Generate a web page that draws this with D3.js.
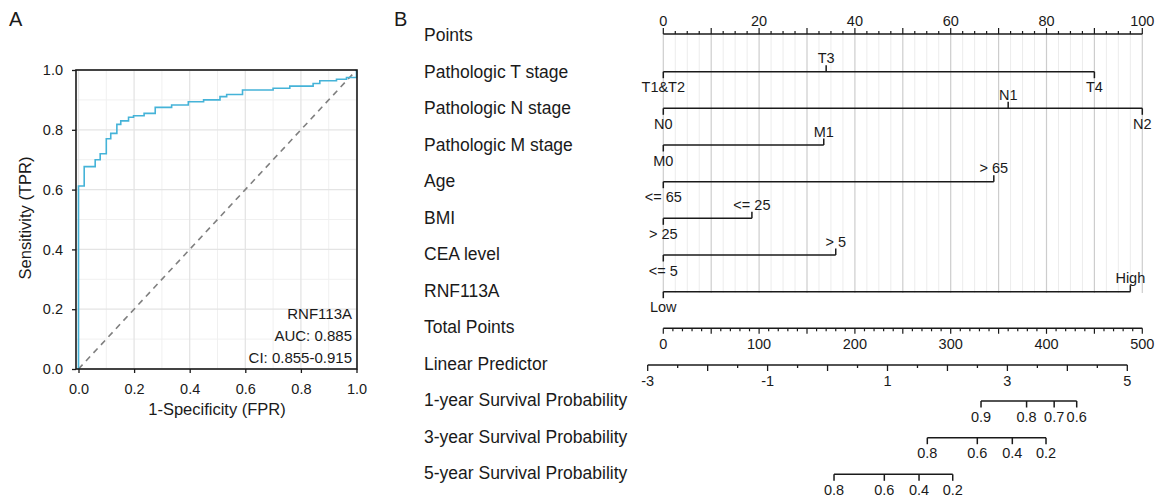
<!DOCTYPE html>
<html><head><meta charset="utf-8">
<script src="https://cdn.jsdelivr.net/npm/d3@7"></script>
<style>
html,body{margin:0;padding:0;background:#fff;}
svg text{font-family:"Liberation Sans",Arial,sans-serif;fill:#1a1a1a;}
</style></head>
<body><svg id="c" width="1159" height="499"></svg>
<script>
// ---------- Panel A data (ROC) ----------
const rocFPR = [0,0,0.0205,0.06,0.078,0.10,0.116,0.138,0.152,0.18,0.198,0.236,0.276,0.335,0.395,0.45,0.509,0.533,0.59,0.70,0.76,0.844,0.868,0.928,0.964,1.0,1.0];
const rocTPR = [0,0.612,0.677,0.70,0.72,0.77,0.788,0.818,0.83,0.842,0.847,0.855,0.875,0.883,0.894,0.90,0.911,0.918,0.933,0.939,0.946,0.955,0.964,0.969,0.975,0.975,1.0];
const rocTicks = [0,0.2,0.4,0.6,0.8,1.0];
const rocLegend = ["RNF113A","AUC: 0.885","CI: 0.855-0.915"];

// ---------- Panel B data (nomogram) ----------
const rowLabels = ["Points","Pathologic T stage","Pathologic N stage","Pathologic M stage","Age","BMI","CEA level","RNF113A","Total Points","Linear Predictor","1-year Survival Probability","3-year Survival Probability","5-year Survival Probability"];
const tLevels = ["T1&T2","T3","T4"],   tPoints = [0,34,90];
const nLevels = ["N0","N1","N2"],      nPoints = [0,72,100];
const mLevels = ["M0","M1"],           mPoints = [0,33.5];
const ageLevels = ["<= 65","> 65"],    agePoints = [0,69];
const bmiLevels = ["> 25","<= 25"],    bmiPoints = [0,18.5];
const ceaLevels = ["<= 5","> 5"],      ceaPoints = [0,36];
const rnfLevels = ["Low","High"],      rnfPoints = [0,97.5];
const pointsTickLabels = [0,20,40,60,80,100];
const totalTickLabels = [0,100,200,300,400,500];
const lpTickLabels = [-3,-1,1,3,5];
const surv1Labels = ["0.9","0.8","0.7","0.6"], surv1LP = [2.56,3.32,3.78,4.156];
const surv3Labels = ["0.8","0.6","0.4","0.2"], surv3LP = [1.664,2.498,3.082,3.644];
const surv5Labels = ["0.8","0.6","0.4","0.2"], surv5LP = [0.108,0.947,1.526,2.088];

const svg = d3.select("#c");
svg.append("rect").attr("width",1159).attr("height",499).attr("fill","#fff");

// ===== Panel A =====
svg.append("text").attr("x",9).attr("y",26).attr("font-size",20).text("A");
const xA = d3.scaleLinear().domain([0,1]).range([78.5,356.5]);
const yA = d3.scaleLinear().domain([0,1]).range([369,70]);
const gA = svg.append("g");
const minor = d3.range(0.1,1,0.2);
gA.selectAll(".gvm").data(minor).join("line")
  .attr("x1",d=>xA(d)).attr("x2",d=>xA(d)).attr("y1",70).attr("y2",369)
  .attr("stroke","#f0f0f0").attr("stroke-width",1);
gA.selectAll(".ghm").data(minor).join("line")
  .attr("y1",d=>yA(d)).attr("y2",d=>yA(d)).attr("x1",76).attr("x2",357)
  .attr("stroke","#f0f0f0").attr("stroke-width",1);
gA.selectAll(".gv").data(rocTicks).join("line")
  .attr("x1",d=>xA(d)).attr("x2",d=>xA(d)).attr("y1",70).attr("y2",369)
  .attr("stroke","#e4e4e4").attr("stroke-width",1.3);
gA.selectAll(".gh").data(rocTicks).join("line")
  .attr("y1",d=>yA(d)).attr("y2",d=>yA(d)).attr("x1",76).attr("x2",357)
  .attr("stroke","#e4e4e4").attr("stroke-width",1.3);
// diagonal
gA.append("line").attr("x1",xA(0)).attr("y1",yA(0)).attr("x2",xA(1)).attr("y2",yA(1))
  .attr("stroke","#7f7f7f").attr("stroke-width",1.6).attr("stroke-dasharray","6,5");
// ROC curve
const roc = rocFPR.map((f,i)=>[f,rocTPR[i]]);
gA.append("path").datum(roc)
  .attr("d",d3.line().x(d=>xA(d[0])).y(d=>yA(d[1])).curve(d3.curveStepAfter))
  .attr("fill","none").attr("stroke","#45b3d8").attr("stroke-width",1.6);
// frame
gA.append("rect").attr("x",76).attr("y",70).attr("width",281).attr("height",299)
  .attr("fill","none").attr("stroke","#1a1a1a").attr("stroke-width",1.6);
// axes
const axXA = gA.append("g").attr("transform","translate(0,369)")
  .call(d3.axisBottom(xA).tickValues(rocTicks).tickFormat(d3.format(".1f")).tickSize(4).tickPadding(11));
const axYA = gA.append("g").attr("transform","translate(76,0)")
  .call(d3.axisLeft(yA).tickValues(rocTicks).tickFormat(d3.format(".1f")).tickSize(4).tickPadding(9));
[axXA,axYA].forEach(a=>{
  a.select(".domain").remove();
  a.selectAll(".tick line").attr("stroke","#1a1a1a").attr("stroke-width",1.3);
  a.selectAll(".tick text").attr("font-size",14.5).attr("fill","#333")
   .attr("font-family","Liberation Sans, Arial, sans-serif");
});
gA.append("text").attr("x",217).attr("y",415).attr("text-anchor","middle").attr("font-size",16.5).text("1-Specificity (FPR)");
gA.append("text").attr("transform","translate(31,218) rotate(-90)").attr("text-anchor","middle").attr("font-size",16.5).text("Sensitivity (TPR)");
gA.selectAll(".leg").data(rocLegend).join("text")
  .attr("x",352).attr("y",(d,i)=>319+i*21.8).attr("text-anchor","end").attr("font-size",15).attr("fill","#333").text(d=>d);

// ===== Panel B =====
svg.append("text").attr("x",394).attr("y",26).attr("font-size",20).text("B");
const xP = d3.scaleLinear().domain([0,100]).range([663.3,1142.3]);
const xT = d3.scaleLinear().domain([0,500]).range([663.3,1142.3]);
const xL = d3.scaleLinear().domain([-3,5]).range([647.7,1127.3]);
const rowY = i => 41 + 36.5*i; // baseline of row label
const gB = svg.append("g");
// row labels
gB.selectAll(".rl").data(rowLabels).join("text")
  .attr("x",424).attr("y",(d,i)=>rowY(i)).attr("font-size",17.5).attr("fill","#1a1a1a").text(d=>d);

// vertical gridlines
const gridTop = 34, gridBot = 293;
gB.selectAll(".gl").data(d3.range(0,100.01,2.5).filter(v=>v%10!==0)).join("line")
  .attr("x1",d=>xP(d)).attr("x2",d=>xP(d)).attr("y1",gridTop).attr("y2",gridBot)
  .attr("stroke","#ececec").attr("stroke-width",1);
gB.selectAll(".gM").data(d3.range(0,100.01,10)).join("line")
  .attr("x1",d=>xP(d)).attr("x2",d=>xP(d)).attr("y1",gridTop).attr("y2",gridBot)
  .attr("stroke","#cdcdcd").attr("stroke-width",1.2);

const black = "#1a1a1a", lw = 1.5, fs = 14.5;
// Points axis (ticks up)
const pY = 34;
gB.append("line").attr("x1",xP(0)).attr("x2",xP(100)).attr("y1",pY).attr("y2",pY).attr("stroke",black).attr("stroke-width",lw);
gB.selectAll(".pt").data(d3.range(0,100.01,2.5)).join("line")
  .attr("x1",d=>xP(d)).attr("x2",d=>xP(d)).attr("y1",pY)
  .attr("y2",d=>pY-(d%10===0?6:3)).attr("stroke",black).attr("stroke-width",1.2);
gB.selectAll(".ptl").data(pointsTickLabels).join("text")
  .attr("x",d=>xP(d)).attr("y",26).attr("text-anchor","middle").attr("font-size",fs).text(d=>d);

// variable rows
const vars = [
  [tLevels,tPoints],[nLevels,nPoints],[mLevels,mPoints],[ageLevels,agePoints],
  [bmiLevels,bmiPoints],[ceaLevels,ceaPoints],[rnfLevels,rnfPoints]
];
const lineYs = [71.7,108.3,145,181.7,218.3,255,291.7];
vars.forEach(([lev,pts],k)=>{
  const y = lineYs[k];
  const g = gB.append("g");
  g.append("line").attr("x1",xP(d3.min(pts))).attr("x2",xP(d3.max(pts))).attr("y1",y).attr("y2",y)
    .attr("stroke",black).attr("stroke-width",lw);
  lev.forEach((l,i)=>{
    const below = i%2===0;
    g.append("line").attr("x1",xP(pts[i])).attr("x2",xP(pts[i])).attr("y1",y)
      .attr("y2",below?y+6.5:y-6.5).attr("stroke",black).attr("stroke-width",lw);
    g.append("text").attr("x",xP(pts[i])).attr("y",below?y+20.5:y-8.5)
      .attr("text-anchor","middle").attr("font-size",fs).text(l);
  });
});

// Total points axis (ticks down)
const tY = 328.3;
gB.append("line").attr("x1",xT(0)).attr("x2",xT(500)).attr("y1",tY).attr("y2",tY).attr("stroke",black).attr("stroke-width",lw);
gB.selectAll(".tt").data(d3.range(0,500.1,10)).join("line")
  .attr("x1",d=>xT(d)).attr("x2",d=>xT(d)).attr("y1",tY)
  .attr("y2",d=>tY+(d%50===0?5.5:3)).attr("stroke",black).attr("stroke-width",1.2);
gB.selectAll(".ttl").data(totalTickLabels).join("text")
  .attr("x",d=>xT(d)).attr("y",348.5).attr("text-anchor","middle").attr("font-size",fs).text(d=>d);

// Linear predictor
const lY = 365;
gB.append("line").attr("x1",xL(-3)).attr("x2",xL(5)).attr("y1",lY).attr("y2",lY).attr("stroke",black).attr("stroke-width",lw);
gB.selectAll(".lt").data(d3.range(-3,5.01,0.5)).join("line")
  .attr("x1",d=>xL(d)).attr("x2",d=>xL(d)).attr("y1",lY)
  .attr("y2",d=>lY+(Number.isInteger(d)?6:3)).attr("stroke",black).attr("stroke-width",1.3);
gB.selectAll(".ltl").data(lpTickLabels).join("text")
  .attr("x",d=>xL(d)).attr("y",385.5).attr("text-anchor","middle").attr("font-size",fs).text(d=>d);

// survival axes
const surv = [[surv1Labels,surv1LP,401],[surv3Labels,surv3LP,437.7],[surv5Labels,surv5LP,474.3]];
surv.forEach(([labs,lps,y])=>{
  const g = gB.append("g");
  g.append("line").attr("x1",xL(d3.min(lps))).attr("x2",xL(d3.max(lps))).attr("y1",y).attr("y2",y)
    .attr("stroke",black).attr("stroke-width",lw);
  g.selectAll("line.t").data(lps).join("line").attr("class","t")
    .attr("x1",d=>xL(d)).attr("x2",d=>xL(d)).attr("y1",y).attr("y2",y+6.5)
    .attr("stroke",black).attr("stroke-width",lw);
  g.selectAll("text").data(labs).join("text")
    .attr("x",(d,i)=>xL(lps[i])).attr("y",y+20.5).attr("text-anchor","middle").attr("font-size",fs).text(d=>d);
});
</script></body></html>
